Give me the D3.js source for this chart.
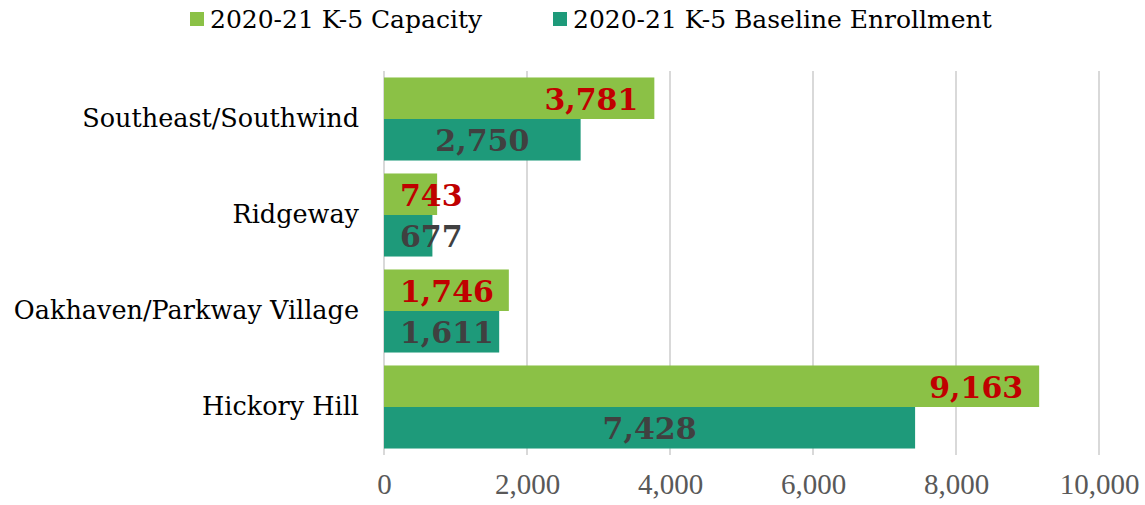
<!DOCTYPE html>
<html><head><meta charset="utf-8">
<script src="https://cdn.jsdelivr.net/npm/d3@7"></script>
<style>
html,body{margin:0;padding:0;background:#fff;}
svg{display:block;}
</style></head>
<body>
<svg id="chart" width="1145" height="505"></svg>
<script>
const categories = ["Southeast/Southwind", "Ridgeway", "Oakhaven/Parkway Village", "Hickory Hill"];
const seriesNames = ["2020-21 K-5 Capacity", "2020-21 K-5 Baseline Enrollment"];
const capacity = [3781, 743, 1746, 9163];
const enrollment = [2750, 677, 1611, 7428];
const xTicks = [0, 2000, 4000, 6000, 8000, 10000];

const colors = ["#8BC146", "#1E9A7A"];
const labelColors = ["#C00000", "#404040"];
const FONT = "'DejaVu Serif', serif";
const TICKFONT = "'Liberation Serif', serif";

const svg = d3.select("#chart");
const x = d3.scaleLinear().domain([0, 10000]).range([384, 1099]);
const y = d3.scaleBand().domain(categories).range([71, 455]).paddingInner(0.135).paddingOuter(0.0675);
const ys = d3.scaleBand().domain([0, 1]).range([0, y.bandwidth()]);

// gridlines
svg.append("g").selectAll("line").data(xTicks).join("line")
  .attr("x1", d => x(d)).attr("x2", d => x(d))
  .attr("y1", 71).attr("y2", 455)
  .attr("stroke", "#D9D9D9").attr("stroke-width", 2);

// x axis labels
const xAxis = d3.axisBottom(x).tickValues(xTicks).tickFormat(d3.format(",")).tickSize(0);
const gx = svg.append("g").attr("transform", "translate(0,470)").call(xAxis);
gx.select(".domain").remove();
gx.selectAll("text").attr("font-family", TICKFONT).attr("font-size", 29).attr("fill", "#595959").attr("dy", "0.71em");

// y axis labels
const yAxis = d3.axisLeft(y).tickSize(0).tickPadding(25);
const gy = svg.append("g").attr("transform", "translate(384,0)").call(yAxis);
gy.select(".domain").remove();
gy.selectAll("text").attr("font-family", FONT).attr("font-size", 25.5).attr("fill", "#000");

const data = categories.map((c, i) => ({cat: c, vals: [capacity[i], enrollment[i]]}));

const groups = svg.append("g").selectAll("g").data(data).join("g")
  .attr("transform", d => `translate(0,${y(d.cat)})`);

groups.selectAll("rect").data(d => d.vals.map((v, s) => ({v, s}))).join("rect")
  .attr("x", x(0)).attr("y", d => ys(d.s))
  .attr("width", d => x(d.v) - x(0)).attr("height", ys.bandwidth())
  .attr("fill", d => colors[d.s]);

// data labels
groups.each(function(d) {
  const g = d3.select(this);
  d.vals.forEach((v, s) => {
    const t = g.append("text")
      .attr("font-family", FONT).attr("font-weight", "bold").attr("font-size", 30)
      .attr("fill", labelColors[s])
      .attr("y", ys(s) + ys.bandwidth() / 2).attr("dy", "0.38em")
      .text(d3.format(",")(v));
    const w = t.node().getComputedTextLength();
    let left;
    if (s === 0) left = x(v) - 16 - w;
    else left = (x(0) + x(v)) / 2 - w / 2;
    left = Math.max(left, x(0) + 16);
    t.attr("x", left);
  });
});

// legend
const legend = svg.append("g");
const legendX = [190, 553];
seriesNames.forEach((name, i) => {
  legend.append("rect").attr("x", legendX[i]).attr("y", 12).attr("width", 14).attr("height", 14).attr("fill", colors[i]);
  legend.append("text").attr("x", legendX[i] + 20).attr("y", 28)
    .attr("font-family", FONT).attr("font-size", 25).attr("fill", "#000").text(name);
});
</script>
</body></html>
